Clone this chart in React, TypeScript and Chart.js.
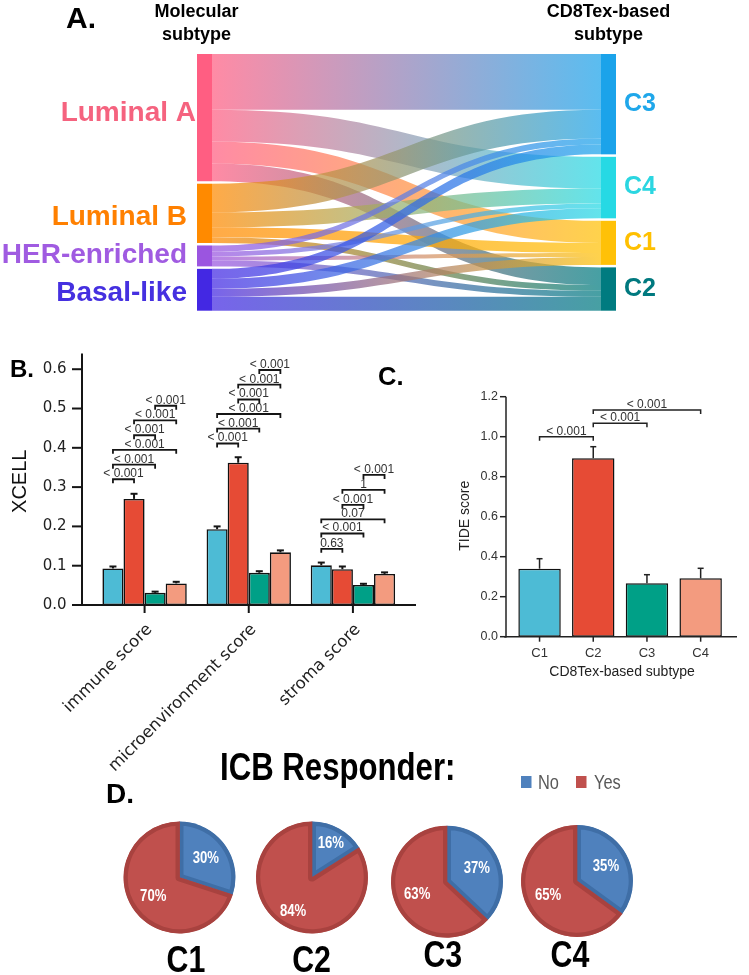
import React, { useEffect, useRef } from 'react';
import { Chart, registerables } from 'chart.js';

Chart.register(...registerables);

const W = 749;
const H = 975;

// ---------------- Panel A: Sankey (molecular subtype -> CD8Tex subtype) ----------------
const MOLECULAR_SUBTYPES = ['Luminal A', 'Luminal B', 'HER-enriched', 'Basal-like'];
const CD8TEX_SUBTYPES = ['C3', 'C4', 'C1', 'C2'];
// flows from each molecular subtype to [C3, C4, C1, C2]
const FLOW_LUMINAL_A = [224, 127, 89, 71];
const FLOW_LUMINAL_B = [115, 60, 40, 23];
const FLOW_HER_ENRICHED = [24, 20, 16, 24];
const FLOW_BASAL_LIKE = [40, 40, 32, 56];

// ---------------- Panel B: XCELL ----------------
const XCELL_SCORES = ['immune score', 'microenvironment score', 'stroma score'];
const GROUPS = ['C1', 'C2', 'C3', 'C4'];
const XCELL_C1 = [0.093, 0.193, 0.101];
const XCELL_C2 = [0.27, 0.362, 0.091];
const XCELL_C3 = [0.031, 0.082, 0.051];
const XCELL_C4 = [0.055, 0.134, 0.079];
const XCELL_ERR_C1 = [0.005, 0.007, 0.007];
const XCELL_ERR_C2 = [0.013, 0.014, 0.007];
const XCELL_ERR_C3 = [0.003, 0.004, 0.003];
const XCELL_ERR_C4 = [0.004, 0.005, 0.004];
const XCELL_TICKS = [0, 0.1, 0.2, 0.3, 0.4, 0.5, 0.6];
const XCELL_PAIRS = [[0, 1], [0, 2], [0, 3], [1, 2], [1, 3], [2, 3]];
const P_IMMUNE = ['< 0.001', '< 0.001', '< 0.001', '< 0.001', '< 0.001', '< 0.001'];
const P_MICRO = ['< 0.001', '< 0.001', '< 0.001', '< 0.001', '< 0.001', '< 0.001'];
const P_STROMA = ['0.63', '< 0.001', '0.07', '< 0.001', '1', '< 0.001'];
const BRACKET_Y_IMMUNE = [0.32, 0.357, 0.395, 0.432, 0.47, 0.507];
const BRACKET_Y_MICRO = [0.411, 0.449, 0.486, 0.523, 0.561, 0.598];
const BRACKET_Y_STROMA = [0.143, 0.182, 0.218, 0.255, 0.293, 0.331];

// ---------------- Panel C: TIDE ----------------
const TIDE_SCORE = [0.34, 0.892, 0.267, 0.292];
const TIDE_ERR = [0.05, 0.058, 0.043, 0.05];
const TIDE_TICKS = [0, 0.2, 0.4, 0.6, 0.8, 1.0, 1.2];
const TIDE_PAIRS = [[0, 1], [1, 2], [1, 3]];
const TIDE_P = ['< 0.001', '< 0.001', '< 0.001'];
const TIDE_BRACKET_Y = [1.0, 1.067, 1.133];

// ---------------- Panel D: ICB responder ----------------
const ICB_LABELS = ['No', 'Yes'];
const ICB_NO = [30, 16, 37, 35];
const ICB_YES = [70, 84, 63, 65];

// ---------------- styles ----------------
const SANS = '"Liberation Sans", Arial, sans-serif';
const DEJAVU = '"DejaVu Sans", sans-serif';
const NARROW_SCALE = 0.82;
const GROUP_COLORS = ['#4DBBD5', '#E64B35', '#00A087', '#F39B7F'];
const SRC_NODE_COLORS = ['#FF5E82', '#FF8A00', '#9B55E0', '#4328E3'];
const TGT_NODE_COLORS = ['#1BA3EA', '#26D9E4', '#FFC107', '#007B80'];
const SRC_LABEL_COLORS = ['#F5637F', '#FF8000', '#A05BE1', '#4530E0'];
const TGT_LABEL_COLORS = ['#1FA7EA', '#2BD6E1', '#FFC000', '#00797F'];
const PIE_COLORS = ['#4F81BD', '#C0504D'];
const PIE_EDGE = ['#3F6EA6', '#A8423F'];

type Rect = { l: number; t: number; r: number; b: number };
const SANKEY_AREA: Rect = { l: 197, t: 54, r: 616, b: 310.7 };
const XCELL_AREA: Rect = { l: 92.5, t: 353.5, r: 405, b: 605 };
const TIDE_AREA: Rect = { l: 512.7, t: 396.7, r: 727.5, b: 636.7 };
const PIE_CX = [179.5, 312, 447, 577];
const PIE_CY = [877.5, 877.5, 881.7, 881];
const PIE_R = 56;
const PIE_LABEL_R = [0.58, 0.7, 0.58, 0.58];
const PIE_NAME_X = [186, 311.6, 442.8, 570];
const PIE_NAME_Y = [971.7, 971.7, 966.7, 966.7];
const NODE_W = 15;
const NODE_GAP = 10;

const padFor = (rc: Rect) => ({ left: rc.l, top: rc.t, right: W - rc.r, bottom: H - rc.b });
const baseOptions = (rc: Rect): any => ({
  responsive: false,
  maintainAspectRatio: false,
  animation: false,
  events: [],
  layout: { padding: padFor(rc) },
  plugins: { legend: { display: false }, tooltip: { enabled: false }, title: { display: false } },
});

function rgba(hex: string, a: number) {
  const n = parseInt(hex.slice(1), 16);
  return `rgba(${(n >> 16) & 255},${(n >> 8) & 255},${n & 255},${a})`;
}
function seg(ctx: CanvasRenderingContext2D, x1: number, y1: number, x2: number, y2: number) {
  ctx.beginPath();
  ctx.moveTo(x1, y1);
  ctx.lineTo(x2, y2);
  ctx.stroke();
}
function narrowText(ctx: CanvasRenderingContext2D, text: string, x: number, y: number, align: CanvasTextAlign) {
  ctx.save();
  ctx.translate(x, y);
  ctx.scale(NARROW_SCALE, 1);
  ctx.textAlign = align;
  ctx.fillText(text, 0, 0);
  ctx.restore();
}
function bracket(ctx: CanvasRenderingContext2D, x1: number, x2: number, yy: number, label: string, tick: number) {
  ctx.beginPath();
  ctx.moveTo(x1, yy + tick);
  ctx.lineTo(x1, yy);
  ctx.lineTo(x2, yy);
  ctx.lineTo(x2, yy + tick);
  ctx.stroke();
  ctx.fillText(label, (x1 + x2) / 2, yy - 2);
}

// ---------------- Panel A config ----------------
function sankeyConfig(): any {
  const flows = [FLOW_LUMINAL_A, FLOW_LUMINAL_B, FLOW_HER_ENRICHED, FLOW_BASAL_LIKE];
  const sTot = flows.map((r) => r.reduce((a, b) => a + b, 0));
  const tTot = CD8TEX_SUBTYPES.map((_, j) => flows.reduce((a, r) => a + r[j], 0));
  const total = sTot.reduce((a, b) => a + b, 0) + NODE_GAP * (sTot.length - 1);
  const plugin = {
    id: 'sankeyDraw',
    afterDatasetsDraw(chart: any) {
      const { ctx, scales } = chart;
      const x = scales.x;
      const y = scales.y;
      const py = (v: number) => y.getPixelForValue(v);
      const sStart: number[] = [];
      let acc = 0;
      sTot.forEach((v) => { sStart.push(acc); acc += v + NODE_GAP; });
      const tStart: number[] = [];
      acc = 0;
      tTot.forEach((v) => { tStart.push(acc); acc += v + NODE_GAP; });
      const xl = x.getPixelForValue(0);
      const xr = x.getPixelForValue(1);
      const lx = xl + NODE_W;
      const rx = xr - NODE_W;
      const mx = (lx + rx) / 2;
      ctx.save();
      const sUsed = sStart.slice();
      const tUsed = tStart.slice();
      flows.forEach((row, i) => {
        row.forEach((v, j) => {
          const s0 = sUsed[i], s1 = s0 + v;
          const t0 = tUsed[j], t1 = t0 + v;
          sUsed[i] = s1;
          tUsed[j] = t1;
          const g = ctx.createLinearGradient(lx, 0, rx, 0);
          g.addColorStop(0, rgba(SRC_NODE_COLORS[i], 0.72));
          g.addColorStop(1, rgba(TGT_NODE_COLORS[j], 0.72));
          ctx.fillStyle = g;
          ctx.beginPath();
          ctx.moveTo(lx, py(s0));
          ctx.bezierCurveTo(mx, py(s0), mx, py(t0), rx, py(t0));
          ctx.lineTo(rx, py(t1));
          ctx.bezierCurveTo(mx, py(t1), mx, py(s1), lx, py(s1));
          ctx.closePath();
          ctx.fill();
        });
      });
      // nodes
      const srcLabelGap = [1, 10, 10, 10];
      const srcLabelDy = [-4, 4, -1, 3];
      sTot.forEach((v, i) => {
        const a = py(sStart[i]), b = py(sStart[i] + v);
        ctx.fillStyle = SRC_NODE_COLORS[i];
        ctx.fillRect(xl, a, NODE_W, b - a);
        ctx.font = `bold 28px ${SANS}`;
        ctx.textAlign = 'right';
        ctx.textBaseline = 'middle';
        ctx.fillStyle = SRC_LABEL_COLORS[i];
        ctx.fillText(MOLECULAR_SUBTYPES[i], xl - srcLabelGap[i], (a + b) / 2 + srcLabelDy[i]);
      });
      tTot.forEach((v, j) => {
        const a = py(tStart[j]), b = py(tStart[j] + v);
        ctx.fillStyle = TGT_NODE_COLORS[j];
        ctx.fillRect(rx, a, NODE_W, b - a);
        ctx.font = `bold 25px ${SANS}`;
        ctx.textAlign = 'left';
        ctx.textBaseline = 'middle';
        ctx.fillStyle = TGT_LABEL_COLORS[j];
        ctx.fillText(CD8TEX_SUBTYPES[j], xr + 8, (a + b) / 2);
      });
      // headers
      ctx.fillStyle = '#000';
      ctx.textBaseline = 'alphabetic';
      ctx.textAlign = 'center';
      ctx.font = `bold 18px ${SANS}`;
      const hl = xl + NODE_W / 2 - 8;
      const hr = xr - NODE_W / 2;
      ctx.fillText('Molecular', hl, 17);
      ctx.fillText('subtype', hl, 40);
      ctx.fillText('CD8Tex-based', hr, 17);
      ctx.fillText('subtype', hr, 40);
      ctx.textAlign = 'left';
      ctx.font = `bold 30px ${SANS}`;
      ctx.fillText('A.', 66, 28);
      ctx.restore();
    },
  };
  return {
    type: 'scatter',
    data: { datasets: [{ data: [] }] },
    options: {
      ...baseOptions(SANKEY_AREA),
      scales: {
        x: { display: false, min: 0, max: 1 },
        y: { display: false, min: 0, max: total, reverse: true },
      },
    },
    plugins: [plugin],
  };
}

// ---------------- Panel B config ----------------
function xcellConfig(): any {
  const values = [XCELL_C1, XCELL_C2, XCELL_C3, XCELL_C4];
  const errs = [XCELL_ERR_C1, XCELL_ERR_C2, XCELL_ERR_C3, XCELL_ERR_C4];
  const pvals = [P_IMMUNE, P_MICRO, P_STROMA];
  const levels = [BRACKET_Y_IMMUNE, BRACKET_Y_MICRO, BRACKET_Y_STROMA];
  const plugin = {
    id: 'xcellAnno',
    afterDatasetsDraw(chart: any) {
      const { ctx, chartArea: ca, scales } = chart;
      const x = scales.x;
      const y = scales.y;
      const y0 = y.getPixelForValue(0);
      const axisX = ca.left - 10.5;
      ctx.save();
      ctx.strokeStyle = '#151515';
      ctx.lineWidth = 2;
      // error bars
      values.forEach((vals, d) => {
        const meta = chart.getDatasetMeta(d);
        vals.forEach((v, i) => {
          const bx = meta.data[i].x;
          const yt = y.getPixelForValue(v);
          const ye = y.getPixelForValue(v + errs[d][i]);
          seg(ctx, bx, yt, bx, ye);
          seg(ctx, bx - 3.5, ye, bx + 3.5, ye);
        });
      });
      // axes
      seg(ctx, axisX, ca.top, axisX, y0 + 1);
      seg(ctx, ca.left - 19.5, y0, ca.right + 11, y0);
      ctx.fillStyle = '#222';
      ctx.font = `15px ${DEJAVU}`;
      ctx.textAlign = 'right';
      ctx.textBaseline = 'middle';
      XCELL_TICKS.forEach((t) => {
        const p = y.getPixelForValue(t);
        seg(ctx, axisX - 10, p, axisX, p);
        ctx.fillText(t.toFixed(1), axisX - 15.5, p);
      });
      ctx.font = `16.5px ${DEJAVU}`;
      XCELL_SCORES.forEach((lab, i) => {
        const px = x.getPixelForValue(i);
        seg(ctx, px, y0, px, y0 + 8);
        ctx.save();
        ctx.translate(px + 5, y0 + 22);
        ctx.rotate(-Math.PI / 4);
        ctx.fillText(lab, 0, 0);
        ctx.restore();
      });
      // brackets
      ctx.lineWidth = 1.8;
      ctx.font = `12px ${SANS}`;
      ctx.textAlign = 'center';
      ctx.textBaseline = 'alphabetic';
      ctx.fillStyle = '#333';
      XCELL_SCORES.forEach((_, g) => {
        XCELL_PAIRS.forEach(([a, b], k) => {
          const x1 = chart.getDatasetMeta(a).data[g].x;
          const x2 = chart.getDatasetMeta(b).data[g].x;
          bracket(ctx, x1, x2, y.getPixelForValue(levels[g][k]), pvals[g][k], 4);
        });
      });
      // titles
      ctx.fillStyle = '#111';
      ctx.save();
      ctx.translate(20, (ca.top + y0) / 2 + 2);
      ctx.rotate(-Math.PI / 2);
      ctx.font = `20px ${SANS}`;
      ctx.textBaseline = 'middle';
      ctx.fillText('XCELL', 0, 0);
      ctx.restore();
      ctx.fillStyle = '#000';
      ctx.textAlign = 'left';
      ctx.font = `bold 24px ${SANS}`;
      ctx.fillText('B.', 10, 377);
      ctx.restore();
    },
  };
  return {
    type: 'bar',
    data: {
      labels: XCELL_SCORES,
      datasets: GROUPS.map((gname, k) => ({
        label: gname,
        data: values[k],
        backgroundColor: GROUP_COLORS[k],
        borderColor: '#111',
        borderWidth: 1.6,
        borderSkipped: false,
        categoryPercentage: 0.81,
        barPercentage: 1,
      })),
    },
    options: {
      ...baseOptions(XCELL_AREA),
      scales: {
        x: { display: false },
        y: { display: false, min: 0, max: 0.64 },
      },
    },
    plugins: [plugin],
  };
}

// ---------------- Panel C config ----------------
function tideConfig(): any {
  const plugin = {
    id: 'tideAnno',
    afterDatasetsDraw(chart: any) {
      const { ctx, chartArea: ca, scales } = chart;
      const x = scales.x;
      const y = scales.y;
      const y0 = y.getPixelForValue(0);
      const axisX = ca.left - 6.7;
      const meta = chart.getDatasetMeta(0);
      ctx.save();
      ctx.strokeStyle = '#222';
      ctx.lineWidth = 1.5;
      TIDE_SCORE.forEach((v, i) => {
        const bx = meta.data[i].x;
        const yt = y.getPixelForValue(v);
        const ye = y.getPixelForValue(v + TIDE_ERR[i]);
        seg(ctx, bx, yt, bx, ye);
        seg(ctx, bx - 3, ye, bx + 3, ye);
      });
      seg(ctx, axisX, ca.top, axisX, y0 + 0.75);
      seg(ctx, ca.left - 8.7, y0, ca.right + 9.5, y0);
      ctx.fillStyle = '#333';
      ctx.font = `12.5px ${SANS}`;
      ctx.textAlign = 'right';
      ctx.textBaseline = 'middle';
      TIDE_TICKS.forEach((t) => {
        const p = y.getPixelForValue(t);
        seg(ctx, axisX - 6, p, axisX, p);
        ctx.fillText(t.toFixed(1), axisX - 8, p);
      });
      ctx.textAlign = 'center';
      ctx.font = `13px ${SANS}`;
      GROUPS.forEach((g, i) => {
        const px = x.getPixelForValue(i);
        seg(ctx, px, y0, px, y0 + 5);
        ctx.fillText(g, px, y0 + 17);
      });
      ctx.font = `14px ${SANS}`;
      ctx.fillStyle = '#222';
      ctx.textBaseline = 'alphabetic';
      ctx.fillText('CD8Tex-based subtype', (ca.left + ca.right) / 2 + 2, y0 + 39);
      ctx.save();
      ctx.translate(465, (ca.top + y0) / 2 - 1);
      ctx.rotate(-Math.PI / 2);
      ctx.textBaseline = 'middle';
      ctx.fillText('TIDE score', 0, 0);
      ctx.restore();
      ctx.font = `12px ${SANS}`;
      ctx.fillStyle = '#333';
      ctx.textBaseline = 'alphabetic';
      TIDE_PAIRS.forEach(([a, b], k) => {
        bracket(ctx, meta.data[a].x, meta.data[b].x, y.getPixelForValue(TIDE_BRACKET_Y[k]), TIDE_P[k], 4);
      });
      ctx.fillStyle = '#000';
      ctx.textAlign = 'left';
      ctx.font = `bold 25.5px ${SANS}`;
      ctx.fillText('C.', 378, 385);
      ctx.restore();
    },
  };
  return {
    type: 'bar',
    data: {
      labels: GROUPS,
      datasets: [
        {
          data: TIDE_SCORE,
          backgroundColor: GROUP_COLORS,
          borderColor: '#111',
          borderWidth: 1.5,
          borderSkipped: false,
          categoryPercentage: 0.79,
          barPercentage: 1,
        },
      ],
    },
    options: {
      ...baseOptions(TIDE_AREA),
      scales: {
        x: { display: false },
        y: { display: false, min: 0, max: 1.2 },
      },
    },
    plugins: [plugin],
  };
}

// ---------------- Panel D config ----------------
function pieConfig(k: number): any {
  const rc: Rect = { l: PIE_CX[k] - PIE_R, t: PIE_CY[k] - PIE_R, r: PIE_CX[k] + PIE_R, b: PIE_CY[k] + PIE_R };
  const plugin = {
    id: 'pieAnno' + k,
    afterDatasetsDraw(chart: any) {
      const { ctx } = chart;
      const meta = chart.getDatasetMeta(0);
      const vals = chart.data.datasets[0].data;
      ctx.save();
      ctx.fillStyle = '#fff';
      ctx.font = `bold 16px ${SANS}`;
      ctx.textBaseline = 'middle';
      meta.data.forEach((arc: any, i: number) => {
        const p = arc.getProps(['x', 'y', 'startAngle', 'endAngle', 'outerRadius'], true);
        const mid = (p.startAngle + p.endAngle) / 2;
        const d = p.outerRadius * PIE_LABEL_R[k];
        narrowText(ctx, `${vals[i]}%`, p.x + Math.cos(mid) * d, p.y + Math.sin(mid) * d, 'center');
      });
      ctx.fillStyle = '#000';
      ctx.font = `bold 37px ${SANS}`;
      ctx.textBaseline = 'alphabetic';
      narrowText(ctx, GROUPS[k], PIE_NAME_X[k], PIE_NAME_Y[k], 'center');
      if (k === 0) {
        ctx.font = `bold 38px ${SANS}`;
        narrowText(ctx, 'ICB Responder:', 220, 780, 'left');
        ctx.font = `bold 28px ${SANS}`;
        ctx.textAlign = 'left';
        ctx.fillText('D.', 106, 803);
        ctx.font = `20px ${SANS}`;
        const lx = [521, 576];
        const tx = [538, 594];
        ICB_LABELS.forEach((lab, i) => {
          ctx.fillStyle = PIE_COLORS[i];
          ctx.fillRect(lx[i], 776, 10.5, 12);
          ctx.fillStyle = '#595959';
          narrowText(ctx, lab, tx[i], 788.5, 'left');
        });
      }
      ctx.restore();
    },
  };
  return {
    type: 'pie',
    data: {
      labels: ICB_LABELS,
      datasets: [
        {
          data: [ICB_NO[k], ICB_YES[k]],
          backgroundColor: PIE_COLORS,
          borderColor: PIE_EDGE,
          borderWidth: 4,
          borderAlign: 'inner',
        },
      ],
    },
    options: { ...baseOptions(rc) },
    plugins: [plugin],
  };
}

function FigureCanvas({ make }: { make: () => any }) {
  const ref = useRef<HTMLCanvasElement>(null);
  useEffect(() => {
    const chart = new Chart(ref.current as HTMLCanvasElement, make());
    return () => chart.destroy();
  }, []);
  return (
    <canvas
      ref={ref}
      width={W}
      height={H}
      style={{ position: 'absolute', left: 0, top: 0, width: W, height: H }}
    />
  );
}

export default function App() {
  return (
    <div style={{ position: 'absolute', left: 0, top: 0, width: W, height: H, background: '#fff', overflow: 'hidden' }}>
      <FigureCanvas make={sankeyConfig} />
      <FigureCanvas make={xcellConfig} />
      <FigureCanvas make={tideConfig} />
      <FigureCanvas make={() => pieConfig(0)} />
      <FigureCanvas make={() => pieConfig(1)} />
      <FigureCanvas make={() => pieConfig(2)} />
      <FigureCanvas make={() => pieConfig(3)} />
    </div>
  );
}
